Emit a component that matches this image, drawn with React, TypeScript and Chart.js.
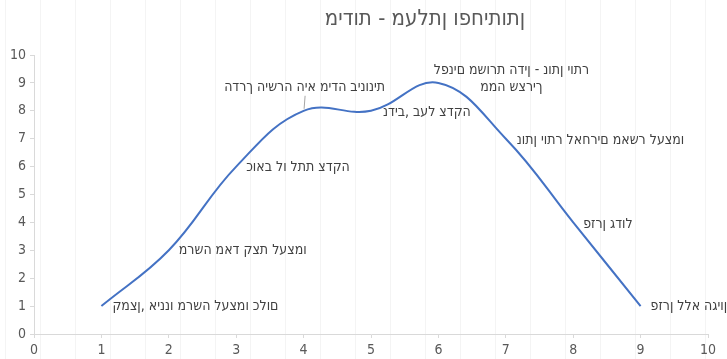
import { useEffect, useRef } from "react";
import { Chart, registerables } from "chart.js";

Chart.register(...registerables);

// Scale of each trait (x) and its rating (y)
const xValues = [1, 2, 3, 4, 5, 6, 7, 8, 9];
const yValues = [1, 3, 6, 8, 8, 9, 7, 4, 1];

// Text shown next to each point (one entry per line)
const pointLabels: string[][] = [
  ["קמצן, איננו מרשה לעצמו כלום"],
  ["מרשה מאד קצת לעצמו"],
  ["כואב לו לתת צדקה"],
  ["הדרך הישרה היא מידה בינונית"],
  ["נדיב, בעל צדקה"],
  ["לפנים משורת הדין - נותן יותר", "ממה שצריך"],
  ["נותן יותר לאחרים מאשר לעצמו"],
  ["פזרן גדול"],
  ["פזרן ללא הגיון"],
];

const chartTitle = "מידות - מעלתן ופחיתותן";
const axisMin = 0;
const axisMax = 10;
const axisStep = 1;

const FONT = "'Liberation Sans Narrow', 'DejaVu Sans Condensed', 'Liberation Sans', sans-serif";
const LINE_COLOR = "#4472C4";
const TEXT_COLOR = "#404040";
const AXIS_TEXT = "#595959";
const AXIS_LINE = "#d9d9d9";

// Text is laid out strictly left to right, in stored character order
const ltrRun = (s: string) => "\u202D" + s + "\u202C";

// Where each label sits relative to its point
type Placement = { dx: number; dy: number; align: "left" | "center"; leader?: boolean };
const placements: Placement[] = [
  { dx: 11, dy: 0, align: "left" },
  { dx: 10, dy: 0, align: "left" },
  { dx: 10, dy: 1, align: "left" },
  { dx: 1, dy: -23, align: "center", leader: true },
  { dx: 12, dy: 2, align: "left" },
  { dx: 73, dy: -13, align: "center" },
  { dx: 11, dy: 2, align: "left" },
  { dx: 10, dy: 2, align: "left" },
  { dx: 10, dy: 0, align: "left" },
];

const sheetBackground = {
  id: "sheetBackground",
  beforeDraw(chart: Chart) {
    const { ctx, width, height } = chart;
    ctx.save();
    ctx.fillStyle = "#ffffff";
    ctx.fillRect(0, 0, width, height);
    ctx.strokeStyle = "#f4f4f4";
    ctx.lineWidth = 1;
    for (let x = 5.5; x < width; x += 35) {
      ctx.beginPath();
      ctx.moveTo(x, 0);
      ctx.lineTo(x, height);
      ctx.stroke();
    }
    ctx.restore();
  },
};

const titleAndLabels = {
  id: "titleAndLabels",
  afterDatasetsDraw(chart: Chart) {
    const { ctx } = chart;
    const meta = chart.getDatasetMeta(0);
    ctx.save();
    ctx.direction = "ltr";

    ctx.font = `22px ${FONT}`;
    ctx.fillStyle = AXIS_TEXT;
    ctx.textAlign = "center";
    ctx.textBaseline = "middle";
    ctx.fillText(ltrRun(chartTitle), 425, 19);

    ctx.font = `14px ${FONT}`;
    ctx.fillStyle = TEXT_COLOR;
    meta.data.forEach((el: any, i: number) => {
      const p = placements[i];
      const lines = pointLabels[i];
      if (p.leader) {
        ctx.strokeStyle = "#a6a6a6";
        ctx.lineWidth = 1;
        ctx.beginPath();
        ctx.moveTo(el.x + 0.5, el.y - 2);
        ctx.lineTo(el.x + 1.5, el.y - 15);
        ctx.stroke();
      }
      ctx.textAlign = p.align;
      lines.forEach((line, j) => {
        ctx.fillText(ltrRun(line), el.x + p.dx, el.y + p.dy + j * 17);
      });
    });
    ctx.restore();
  },
};

export default function App() {
  const canvasRef = useRef<HTMLCanvasElement | null>(null);

  useEffect(() => {
    document.body.style.margin = "0";
    const canvas = canvasRef.current;
    if (!canvas) return;

    const axisCommon = {
      type: "linear" as const,
      min: axisMin,
      max: axisMax,
      ticks: {
        stepSize: axisStep,
        color: AXIS_TEXT,
        font: { family: FONT, size: 14 },
        padding: 4,
      },
      grid: {
        drawOnChartArea: false,
        drawTicks: true,
        tickLength: 4,
        color: AXIS_LINE,
      },
      border: { color: AXIS_LINE, width: 1 },
    };

    const chart = new Chart(canvas, {
      type: "scatter",
      data: {
        datasets: [
          {
            data: xValues.map((x, i) => ({ x, y: yValues[i] })),
            showLine: true,
            borderColor: LINE_COLOR,
            borderWidth: 2,
            pointRadius: 0,
            tension: 0.4,
            fill: false,
          },
        ],
      },
      options: {
        responsive: false,
        animation: false,
        layout: { padding: { top: 55, right: 19, left: 0, bottom: 0 } },
        plugins: {
          legend: { display: false },
          title: { display: false },
          tooltip: { enabled: false },
        },
        scales: {
          x: {
            ...axisCommon,
            position: "bottom",
            afterFit: (scale: any) => {
              scale.height = 25;
            },
          },
          y: {
            ...axisCommon,
            position: "left",
            afterFit: (scale: any) => {
              scale.width = 34;
            },
          },
        },
      },
      plugins: [sheetBackground, titleAndLabels],
    });

    return () => chart.destroy();
  }, []);

  return (
    <div style={{ width: 727, height: 359 }}>
      <canvas ref={canvasRef} width={727} height={359} />
    </div>
  );
}
